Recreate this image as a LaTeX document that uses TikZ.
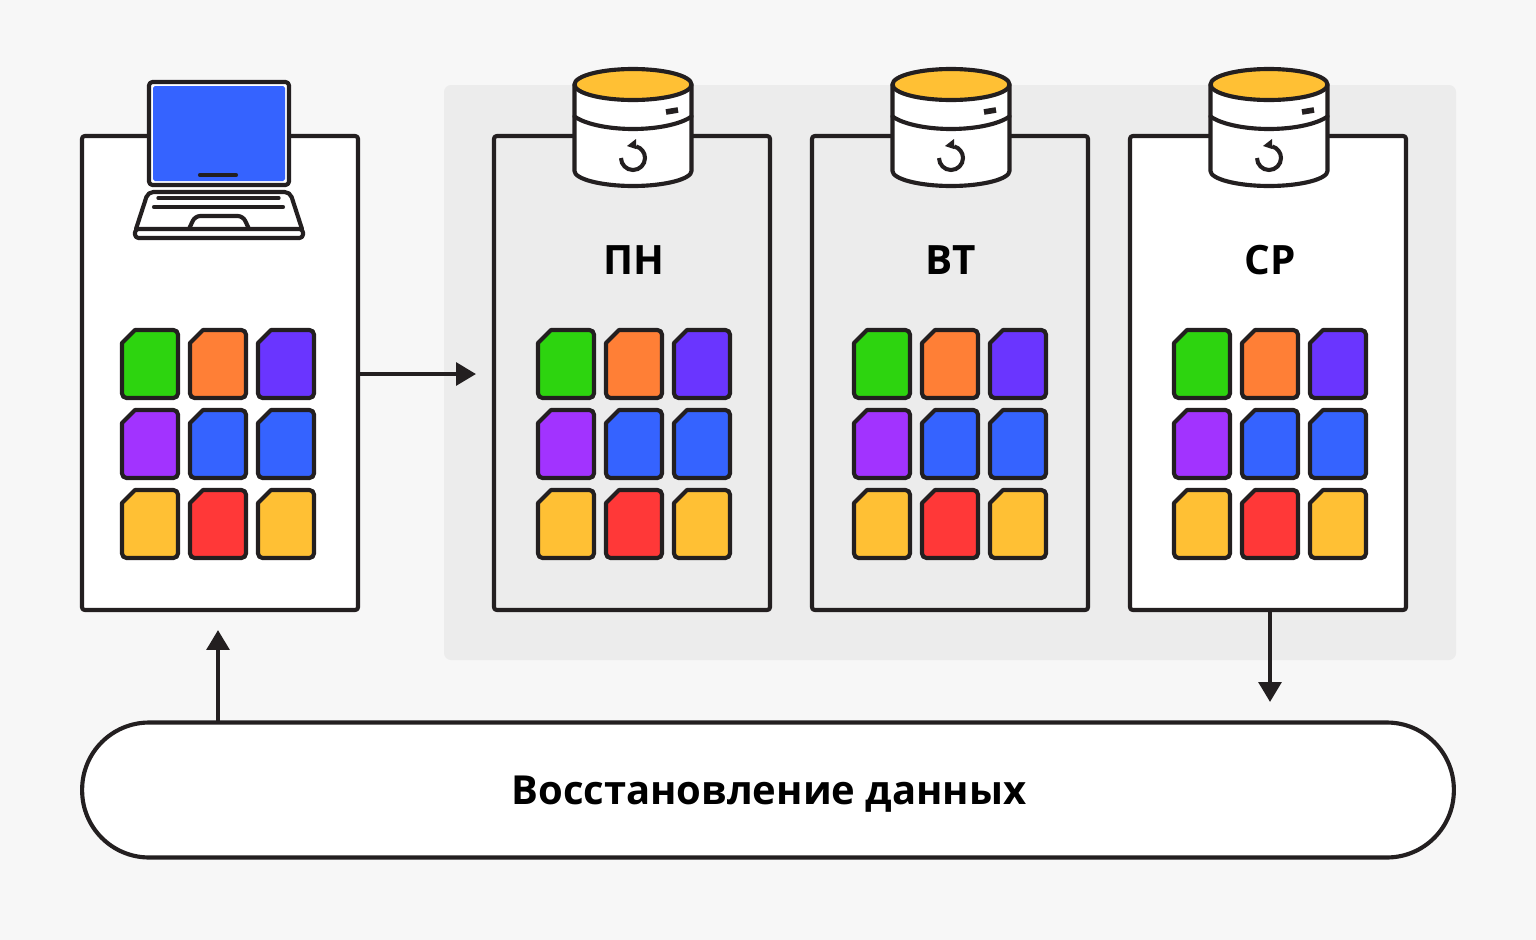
\documentclass[tikz,border=0pt]{standalone}
\usepackage{fontspec}
\setmainfont{Open Sans}
\usetikzlibrary{calc,arrows.meta}
\definecolor{pagebg}{HTML}{F7F7F7}
\definecolor{zonebg}{HTML}{ECECEC}
\definecolor{ink}{HTML}{231F20}
\definecolor{cgreen}{HTML}{2DD40F}
\definecolor{corange}{HTML}{FF7F36}
\definecolor{cviolet}{HTML}{6A35FF}
\definecolor{cpurple}{HTML}{A233FF}
\definecolor{cblue}{HTML}{3563FF}
\definecolor{cyellow}{HTML}{FFC034}
\definecolor{cred}{HTML}{FF3838}
\tikzset{
  base/.style={draw=ink, line width=2.35pt, line cap=round, line join=round},
  panel/.style={base, rectangle, rounded corners=1.5pt, minimum width=5.52cm, minimum height=9.48cm, outer sep=0pt},
  flow/.style={draw=ink, line width=2.3pt, -{Triangle[length=11.3pt,width=12.8pt]}},
  lab/.style={text=black, font=\fontsize{23}{27}\selectfont\bfseries},
  labw/.style={text=black, font=\fontsize{22.75}{27}\selectfont\bfseries},
  pics/filegrid/.style={code={
    \foreach \col/\cx/\cy in {cgreen/0/0,corange/68/0,cviolet/136/0,
      cpurple/0/80,cblue/68/80,cblue/136/80,
      cyellow/0/160,cred/68/160,cyellow/136/160}
      \draw[base, fill=\col, shift={(\cx,\cy)}] (0,13) -- (13,0) [rounded corners=2.6pt] -- (56,0) -- (56,68) -- (0,68) [sharp corners] -- cycle;
  }},
  pics/dbstack/.style={code={
    \draw[base, fill=white] (-58.5,84.5) -- (-58.5,171) .. controls (-58.5,179) and (-32,186) .. (0,186)
      .. controls (32,186) and (58.5,179) .. (58.5,171) -- (58.5,84.5) -- cycle;
    \draw[base] (-58.5,116.5) .. controls (-48,124) and (-25,129) .. (0,129) .. controls (25,129) and (48,124) .. (58.5,116.5);
    \draw[base, fill=cyellow] (0,84.5) ellipse [x radius=58.5, y radius=15.5];
    \draw[draw=ink, line width=3.2pt] (33,112) -- (45,110);
    \draw[draw=ink, line width=2.3pt] (-12,158) arc [start angle=180, end angle=-75, radius=12];
    \fill[ink] (-6,146) -- (3,139) -- (3,149) -- cycle;
  }},
}

\begin{document}
\begin{tikzpicture}[x=0.02cm, y=-0.02cm]
  \useasboundingbox (0,0) rectangle (1536,940);
  \fill[pagebg] (0,0) rectangle (1536,940);
  \fill[zonebg, rounded corners=4pt] (444,85) rectangle (1456,660);

  \node[panel, fill=white] (client) at (220,373) {};
  \node[panel] (mon) at (632,373) {};
  \node[panel] (tue) at (950,373) {};
  \node[panel, fill=white] (wed) at (1268,373) {};

  \pic at (122,330) {filegrid};
  \pic at (538,330) {filegrid};
  \pic at (854,330) {filegrid};
  \pic at (1174,330) {filegrid};

  \draw[base, fill=white, rounded corners=2pt] (149,82) rectangle (289,185);
  \fill[cblue, rounded corners=1pt] (153,86) rectangle (285,181);
  \draw[base] (200,175) -- (236,175);
  \draw[base, fill=white, rounded corners=3pt] (136,229) -- (148,192) -- (290,192) -- (302,229);
  \draw[base, fill=white, rounded corners=2pt] (135,229) rectangle (303,238);
  \draw[base, line width=1.9pt] (158,198) -- (279,198);
  \draw[base] (154,207) -- (283,207);
  \draw[base, rounded corners=3pt] (189,229) -- (195,216) -- (243,216) -- (249,229);

  \pic at (633,0) {dbstack};
  \pic at (951,0) {dbstack};
  \pic at (1269,0) {dbstack};

  \node[lab] (monlab) at (634,260) {ПН};
  \node[lab] (tuelab) at (951,260) {ВТ};
  \node[lab] (wedlab) at (1270,260) {СР};

  \node[base, fill=white, rectangle, rounded corners=1.34cm, minimum width=27.44cm, minimum height=2.7cm, outer sep=0pt] (restore) at (768,790) {};
  \node[labw] (restorelab) at (769,794) {Восстановление данных};

  \coordinate (monin) at (476,374);
  \coordinate (restin) at (1270,702);
  \coordinate (clientin) at (218,630);
  \draw[flow] (client.east |- monin) -- (monin);
  \draw[flow] (wed.south -| restin) -- (restin);
  \draw[flow] (restore.north -| clientin) -- (clientin);
\end{tikzpicture}
\end{document}
